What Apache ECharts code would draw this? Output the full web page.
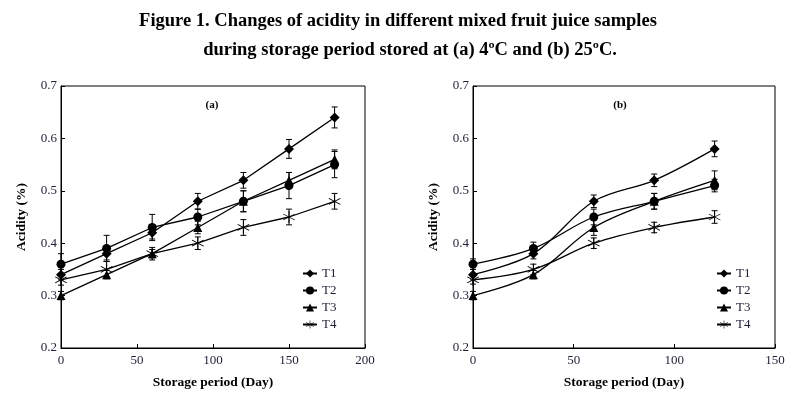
<!DOCTYPE html>
<html>
<head>
<meta charset="utf-8">
<script src="https://cdn.jsdelivr.net/npm/echarts@6/dist/echarts.min.js"></script>
<style>
  html, body { margin: 0; padding: 0; background: #fff; }
  #chart { width: 797px; height: 398px; }
</style>
</head>
<body>
<div id="chart"></div>
<script>
// storage days
const daysA = [0, 30, 60, 90, 120, 150, 180];
const daysB = [0, 30, 60, 90, 120];

// (a) 4 °C
const a_T1 = [0.34, 0.38, 0.42, 0.48, 0.52, 0.58, 0.64];
const a_T2 = [0.36, 0.39, 0.43, 0.45, 0.48, 0.51, 0.55];
const a_T3 = [0.30, 0.34, 0.38, 0.43, 0.48, 0.52, 0.56];
const a_T4 = [0.33, 0.35, 0.38, 0.40, 0.43, 0.45, 0.48];
const a_T1err = [0.01, 0.012, 0.012, 0.015, 0.015, 0.018, 0.02];
const a_T2err = [0.02, 0.025, 0.025, 0.015, 0.02, 0.025, 0.025];
const a_T3err = [0.008, 0.008, 0.008, 0.012, 0.02, 0.015, 0.018];
const a_T4err = [0.01, 0.015, 0.012, 0.012, 0.015, 0.015, 0.015];

// (b) 25 °C
const b_T1 = [0.34, 0.38, 0.48, 0.52, 0.58];
const b_T2 = [0.36, 0.39, 0.45, 0.48, 0.51];
const b_T3 = [0.30, 0.34, 0.43, 0.48, 0.52];
const b_T4 = [0.33, 0.35, 0.40, 0.43, 0.45];
const b_T1err = [0.01, 0.01, 0.012, 0.012, 0.015];
const b_T2err = [0.01, 0.012, 0.015, 0.015, 0.012];
const b_T3err = [0.008, 0.008, 0.015, 0.015, 0.018];
const b_T4err = [0.008, 0.01, 0.01, 0.01, 0.012];

const names = ["T1", "T2", "T3", "T4"];

// 星号 marker: three crossing bars
const starPath = "path://M-0.7 -10 L0.7 -10 L0.7 10 L-0.7 10 Z " +
  "M-9.01 -4.39 L-8.31 -5.61 L9.01 4.39 L8.31 5.61 Z " +
  "M-8.31 5.61 L-9.01 4.39 L8.31 -5.61 L9.01 -4.39 Z";
const symbols = ["diamond", "circle", "triangle", starPath];
const symbolSizes = [10, 9, 9, 12];

const serif = "'Liberation Serif', 'DejaVu Serif', serif";
const textColor = "#1e1e36";

const chart = echarts.init(document.getElementById("chart"));

function lineSeries(name, i, xs, ys, gi, smooth) {
  return {
    name: name,
    type: "line",
    xAxisIndex: gi,
    yAxisIndex: gi,
    data: xs.map((x, k) => [x, ys[k]]),
    smooth: smooth,
    symbol: symbols[i],
    symbolSize: symbolSizes[i],
    showAllSymbol: true,
    lineStyle: { color: "#000", width: 1.3 },
    itemStyle: { color: "#000" },
    z: 3,
  };
}

// 误差棒
function errSeries(xs, ys, es, gi) {
  return {
    type: "custom",
    xAxisIndex: gi,
    yAxisIndex: gi,
    data: xs.map((x, k) => [x, ys[k], es[k]]),
    renderItem: function (params, api) {
      const x = api.value(0), y = api.value(1), e = api.value(2);
      const hi = api.coord([x, y + e]);
      const lo = api.coord([x, y - e]);
      const st = { stroke: "#000", lineWidth: 1 };
      return {
        type: "group",
        children: [
          { type: "line", shape: { x1: hi[0], y1: hi[1], x2: lo[0], y2: lo[1] }, style: st },
          { type: "line", shape: { x1: hi[0] - 3, y1: hi[1], x2: hi[0] + 3, y2: hi[1] }, style: st },
          { type: "line", shape: { x1: lo[0] - 3, y1: lo[1], x2: lo[0] + 3, y2: lo[1] }, style: st },
        ],
      };
    },
    z: 2,
    silent: true,
  };
}

function xAxis(gi, max) {
  return {
    type: "value",
    gridIndex: gi,
    min: 0,
    max: max,
    interval: 50,
    axisLine: { lineStyle: { color: "#000", width: 1 } },
    axisTick: { inside: true, length: 4, lineStyle: { color: "#000" } },
    axisLabel: { color: textColor, fontFamily: serif, fontSize: 13, margin: 6 },
    splitLine: { show: false },
    name: "Storage period (Day)",
    nameLocation: "middle",
    nameGap: 28,
    nameTextStyle: { color: "#000", fontFamily: serif, fontSize: 13.5, fontWeight: "bold" },
  };
}

function yAxis(gi) {
  return {
    type: "value",
    gridIndex: gi,
    min: 0.2,
    max: 0.7,
    interval: 0.1,
    axisLine: { lineStyle: { color: "#000", width: 1 } },
    axisTick: { inside: true, length: 4, lineStyle: { color: "#000" } },
    axisLabel: {
      color: textColor, fontFamily: serif, fontSize: 13, margin: 4,
      formatter: (v) => v.toFixed(1),
    },
    splitLine: { show: false },
    name: "Acidity (%)",
    nameLocation: "middle",
    nameGap: 32,
    nameTextStyle: { color: "#000", fontFamily: serif, fontSize: 13.5, fontWeight: "bold" },
  };
}

function legend(left) {
  return {
    data: names,
    orient: "vertical",
    left: left,
    top: 262,
    itemGap: 4,
    itemWidth: 14,
    itemHeight: 10,
    textStyle: { color: textColor, fontFamily: serif, fontSize: 13 },
    selectedMode: false,
  };
}

const aY = [a_T1, a_T2, a_T3, a_T4];
const aE = [a_T1err, a_T2err, a_T3err, a_T4err];
const bY = [b_T1, b_T2, b_T3, b_T4];
const bE = [b_T1err, b_T2err, b_T3err, b_T4err];

const series = [];
names.forEach((n, i) => {
  series.push(errSeries(daysA, aY[i], aE[i], 0));
  series.push(lineSeries(n, i, daysA, aY[i], 0, false));
  series.push(errSeries(daysB, bY[i], bE[i], 1));
  series.push(lineSeries(n, i, daysB, bY[i], 1, 0.35));
});

chart.setOption({
  animation: false,
  backgroundColor: "#fff",
  grid: [
    { left: 61, right: 432, top: 86, bottom: 50, show: true, borderColor: "#000", borderWidth: 1 },
    { left: 473, right: 22, top: 86, bottom: 50, show: true, borderColor: "#000", borderWidth: 1 },
  ],
  xAxis: [xAxis(0, 200), xAxis(1, 150)],
  yAxis: [yAxis(0), yAxis(1)],
  legend: [legend(297), legend(711)],
  graphic: [
    { type: "text", x: 398, y: 21, style: {
      text: "Figure 1. Changes of acidity in different mixed fruit juice samples",
      font: "bold 18.5px " + serif, fill: "#000", align: "center", verticalAlign: "middle" } },
    { type: "text", x: 410, y: 50, style: {
      text: "during storage period stored at (a) 4ºC and (b) 25ºC.",
      font: "bold 18.5px " + serif, fill: "#000", align: "center", verticalAlign: "middle" } },
    { type: "text", x: 212, y: 105, style: { text: "(a)", font: "bold 11px " + serif, fill: "#000", align: "center", verticalAlign: "middle" } },
    { type: "text", x: 620, y: 105, style: { text: "(b)", font: "bold 11px " + serif, fill: "#000", align: "center", verticalAlign: "middle" } },
  ],
  series: series,
});
</script>
</body>
</html>
